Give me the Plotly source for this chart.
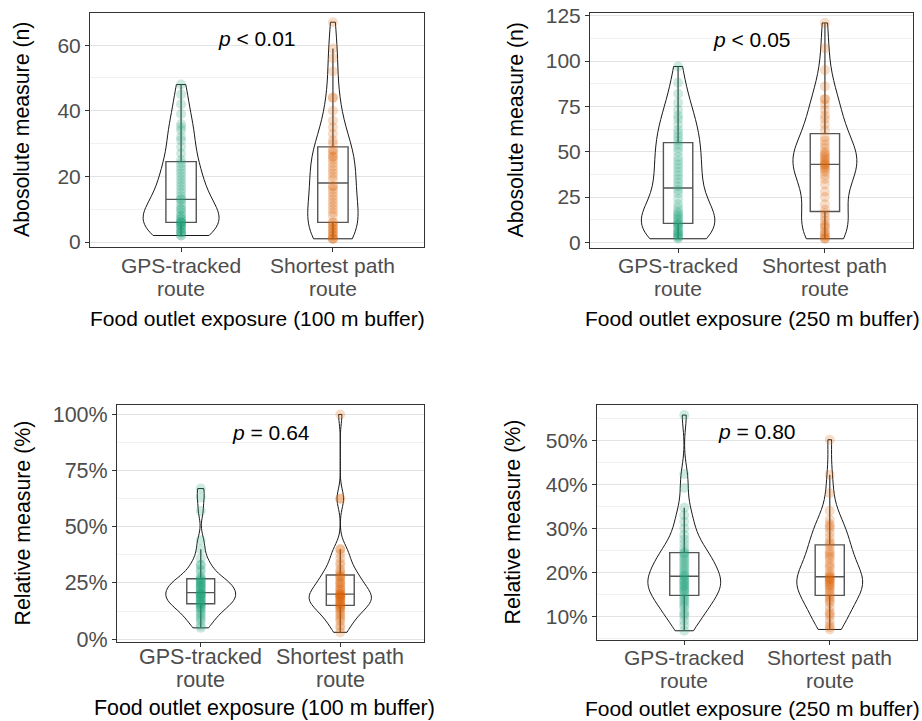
import numpy as np
import plotly.graph_objects as go

# ---------------- data ----------------
routes = ["GPS-tracked route", "Shortest path route"]
route_line1 = ["GPS-tracked", "Shortest path"]
route_line2 = ["route", "route"]

gps_abs_100 = [2, 2, 3, 3, 3, 4, 4, 5, 5, 5, 6, 6,
               6, 6, 7, 7, 8, 8, 9, 10, 10, 11, 12, 13,
               13, 14, 15, 16, 17, 18, 19, 20, 21, 22, 23, 24,
               25, 27, 29, 31, 32, 34, 35, 36, 39, 42, 45, 48]
sp_abs_100 = [1, 1, 1, 2, 2, 3, 3, 4, 4, 5, 5, 6,
              6, 8, 9, 10, 11, 12, 13, 14, 15, 16, 17, 17,
              19, 20, 21, 22, 23, 24, 25, 26, 26, 27, 28, 28,
              30, 31, 33, 35, 37, 40, 44, 44, 52, 56, 59, 67]

gps_abs_250 = [2, 3, 3, 4, 5, 5, 6, 7, 8, 9, 10, 10,
               11, 12, 13, 14, 15, 16, 17, 19, 21, 24, 27, 29,
               31, 33, 35, 37, 39, 41, 43, 45, 47, 50, 52, 54,
               56, 58, 60, 62, 65, 68, 70, 73, 77, 82, 88, 97]
sp_abs_250 = [2, 2, 3, 4, 5, 6, 8, 9, 10, 12, 14, 16,
              18, 21, 25, 28, 32, 35, 37, 39, 40, 41, 42, 43,
              43, 44, 45, 46, 47, 48, 49, 50, 52, 54, 56, 58,
              62, 65, 68, 70, 73, 76, 79, 79, 86, 95, 107, 121]

gps_rel_100 = [5, 6, 8, 9, 10, 11, 12, 13, 14, 14, 15, 15.5,
               16, 16, 17, 17, 18, 18, 19, 19, 20, 20, 20, 20.4,
               21, 22, 22, 23, 23, 24, 24, 25, 25, 26, 26, 26.7,
               27, 28, 30, 31, 33, 33, 36, 40, 44, 57, 63, 67]
sp_rel_100 = [3, 5, 6, 8, 9, 10, 11, 12, 13, 14, 14, 15,
              15, 16, 16, 17, 17, 18, 18, 19, 19, 19, 20, 20,
              20, 21, 22, 22, 23, 24, 25, 25, 26, 27, 28, 28,
              29, 30, 31, 33, 34, 36, 38, 40, 40, 62.5, 62.5, 100]

gps_rel_250 = [6.7, 8, 9, 10, 10.5, 11, 12, 12.5, 13, 13.5, 14, 14.5,
               15, 15.5, 16, 16, 16.5, 17, 17, 17.5, 18, 18, 18.5, 19,
               19.2, 19.5, 20, 20.5, 21, 21.5, 22, 22.5, 23, 23.5, 24, 24.5,
               24.5, 25.5, 26.5, 27.5, 28.5, 30, 31.5, 33, 34.7, 39.2, 42.4, 55.8]
sp_rel_250 = [7, 7.5, 8, 9, 10, 10.5, 11, 12, 13, 13.5, 14, 14.5,
              15, 15.5, 16, 16.5, 17, 17, 17.5, 18, 18, 18.5, 18.5, 19,
              19, 19.5, 20, 21, 21.5, 22, 23, 23.5, 24, 24.5, 25, 26,
              26.5, 27, 28, 29, 30, 30.5, 31, 32, 34, 38, 42.2, 50.2]

p_labels = ["<i>p</i> &lt; 0.01", "<i>p</i> &lt; 0.05",
            "<i>p</i> = 0.64", "<i>p</i> = 0.80"]
p_y = [62, 112, 92, 52]
x_titles = ["Food outlet exposure (100 m buffer)", "Food outlet exposure (250 m buffer)",
            "Food outlet exposure (100 m buffer)", "Food outlet exposure (250 m buffer)"]
y_titles = ["Abosolute measure (n)", "Abosolute measure (n)",
            "Relative measure (%)", "Relative measure (%)"]

panels = [(gps_abs_100, sp_abs_100), (gps_abs_250, sp_abs_250),
          (gps_rel_100, sp_rel_100), (gps_rel_250, sp_rel_250)]

# ---------------- layout geometry (pixels) ----------------
W, H = 922, 721
boxes = [(90, 424, 13, 247), (590, 913, 13, 248), (117, 424, 405, 642), (597, 917, 405, 640)]
yranges = [[-1.5, 69.8], [-3.1, 126.5], [-1.3, 104.2], [4.6, 58.1]]
ydticks = [20, 25, 25, 10]
yminor = [10, 12.5, 12.5, 5]
ysuffix = ["", "", "%", "%"]
ytitle_x = [22, 515, 22, 512]
xtitle_y = [318, 318, 708, 708]
xtitle_cx = [257, 752, 264, 752]
xlab_y = [(265, 288), (265, 288), (657, 680), (657, 680)]
fsize = [(21, 21), (21, 21), (21.5, 21.4), (21, 21)]  # (tick labels, titles)
VIOLIN_MAX_WIDTH = 0.5

colors = ["#1b9e77", "#d95f02"]
FONT = "Liberation Sans, Arial, sans-serif"
GREY30 = "#4d4d4d"


def nrd0(v):
    v = np.asarray(v, float)
    sd = v.std(ddof=1)
    q75, q25 = np.percentile(v, [75, 25])
    return 0.9 * min(sd, (q75 - q25) / 1.34) * len(v) ** -0.2


def max_kde(v, bw):
    v = np.asarray(v, float)
    grid = np.linspace(v.min(), v.max(), 512)
    dens = np.exp(-0.5 * ((grid[:, None] - v[None, :]) / bw) ** 2).sum(1)
    return (dens / (len(v) * bw * np.sqrt(2 * np.pi))).max()


fig = go.Figure()
annotations = []
for i, (series, (x0, x1, y0, y1)) in enumerate(zip(panels, boxes)):
    s = "" if i == 0 else str(i + 1)
    xa, ya = "x" + s, "y" + s
    tf, tt = fsize[i]
    bws = [nrd0(v) for v in series]
    peaks = [max_kde(v, b) for v, b in zip(series, bws)]
    for j, vals in enumerate(series):
        # equal-area violins (ggplot scale = "area")
        fig.add_trace(go.Violin(
            x=[routes[j]] * len(vals), y=vals, xaxis=xa, yaxis=ya,
            line=dict(color="#1a1a1a", width=1), fillcolor="rgba(0,0,0,0)",
            points=False, spanmode="hard", bandwidth=bws[j],
            width=VIOLIN_MAX_WIDTH * peaks[j] / max(peaks),
            showlegend=False, hoverinfo="skip"))
    for j, vals in enumerate(series):
        fig.add_trace(go.Box(
            x=[routes[j]] * len(vals), y=vals, xaxis=xa, yaxis=ya,
            width=0.2, boxpoints="outliers", whiskerwidth=0,
            marker=dict(opacity=0, size=1),
            line=dict(color="#555555", width=1.4), fillcolor="white",
            showlegend=False, hoverinfo="skip"))
    for j, vals in enumerate(series):
        fig.add_trace(go.Scatter(
            x=[routes[j]] * len(vals), y=vals, xaxis=xa, yaxis=ya,
            mode="markers",
            marker=dict(color=colors[j], size=10, opacity=0.22, line=dict(width=0)),
            showlegend=False, hoverinfo="skip"))

    fig.layout["xaxis" + s] = dict(
        domain=[x0 / W, x1 / W], anchor=ya, range=[-0.6, 1.6], automargin=False,
        showgrid=False, zeroline=False, showline=True, mirror=True,
        linecolor="#333333", linewidth=1, ticks="outside", ticklen=4,
        tickcolor="#333333", showticklabels=False)
    fig.layout["yaxis" + s] = dict(
        domain=[1 - y1 / H, 1 - y0 / H], anchor=xa, range=yranges[i], automargin=False,
        tick0=0, dtick=ydticks[i], ticksuffix=ysuffix[i],
        showgrid=True, gridcolor="#e3e3e3", gridwidth=1, zeroline=False,
        minor=dict(dtick=yminor[i], tick0=0, showgrid=True, gridcolor="#f1f1f1", gridwidth=1),
        showline=True, mirror=True, linecolor="#333333", linewidth=1,
        ticks="outside", ticklen=4, tickcolor="#333333",
        tickfont=dict(size=tf, color=GREY30, family=FONT))

    # category labels (two lines, ggplot-like line spacing)
    for j in range(2):
        for line_txt, ly in zip((route_line1[j], route_line2[j]), xlab_y[i]):
            annotations.append(dict(xref=xa, yref="paper", x=j, y=1 - ly / H,
                                    text=line_txt, showarrow=False,
                                    xanchor="center", yanchor="middle",
                                    font=dict(size=tf, color=GREY30, family=FONT)))

    annotations.append(dict(xref=xa, yref=ya, x=0.5, y=p_y[i], text=p_labels[i],
                            showarrow=False, font=dict(size=21, color="black", family=FONT)))
    annotations.append(dict(xref="paper", yref="paper", x=xtitle_cx[i] / W,
                            y=1 - xtitle_y[i] / H, text=x_titles[i], showarrow=False,
                            xanchor="center", yanchor="middle",
                            font=dict(size=tt, color="black", family=FONT)))
    annotations.append(dict(xref="paper", yref="paper", x=ytitle_x[i] / W,
                            y=1 - (y0 + y1) / 2 / H, text=y_titles[i], textangle=-90,
                            showarrow=False, xanchor="center", yanchor="middle",
                            font=dict(size=21.3, color="black", family=FONT)))

fig.update_layout(
    width=W, height=H, margin=dict(l=0, r=0, t=0, b=0, autoexpand=False),
    paper_bgcolor="white", plot_bgcolor="white",
    violinmode="overlay", boxmode="overlay",
    annotations=annotations, font=dict(family=FONT))

fig.write_html("out.html", config={"displayModeBar": False},
               post_script="document.body.style.margin='0';")
